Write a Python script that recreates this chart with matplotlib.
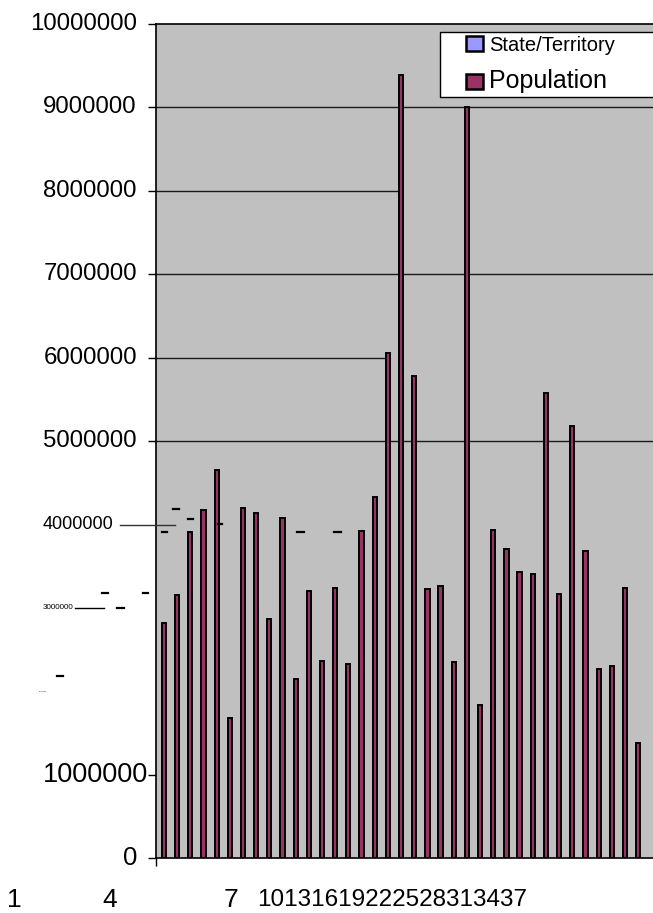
import matplotlib.pyplot as plt
import matplotlib.transforms as mtransforms
from matplotlib.patches import Patch, Rectangle
from matplotlib.legend_handler import HandlerPatch
from matplotlib.lines import Line2D

plt.rcParams['font.family'] = ['Liberation Sans', 'DejaVu Sans']

# Population per state/territory (category 1..37)
population = [2820000, 3150000, 3910000, 4170000, 4650000, 1680000, 4200000,
              4140000, 2870000, 4080000, 2150000, 3200000, 2360000, 3240000,
              2330000, 3920000, 4330000, 6060000, 9390000, 5780000, 3220000,
              3260000, 2350000, 9000000, 1830000, 3930000, 3700000, 3430000,
              3400000, 5580000, 3170000, 5180000, 3680000, 2270000, 2300000,
              3240000, 1380000]
x_labels = ['1', '4', '7', '10', '13', '16', '19', '22', '25', '28', '31', '34', '37']
y_values = [0, 1000000, 2000000, 3000000, 4000000, 5000000, 6000000,
            7000000, 8000000, 9000000, 10000000]
y_labels = [str(v) for v in y_values]

W, H = 653, 913
fig = plt.figure(figsize=(W / 100, H / 100), dpi=100)

def fx(px):
    return px / W

def fy(py):
    return 1 - py / H

# plot area, it runs off the right edge like the original
step = 13.17
x_left = -(164 - 156) / step
x_right = (660 - 164) / step
ax = fig.add_axes([fx(156), fy(858), (660 - 156) / W, (858 - 24) / H])
ax.set_facecolor('#C0C0C0')
ax.set_xlim(x_left, x_right)
ax.set_ylim(0, 10000000)

# gridlines (two of them stop at the tall bars)
for v in [5000000, 7000000, 9000000]:
    ax.hlines(v, x_left, x_right, color='#1a1a1a', lw=1, zorder=1)
ax.hlines(8000000, x_left, 18, color='#1a1a1a', lw=1, zorder=1)
ax.hlines(6000000, x_left, 17, color='#1a1a1a', lw=1, zorder=1)

xs = list(range(len(population)))
ax.bar(xs, population, width=0.32, color='#993366', edgecolor='black',
       linewidth=1.4, zorder=3)

ax.spines['right'].set_visible(False)
for side in ['left', 'bottom', 'top']:
    ax.spines[side].set_linewidth(1.2)
    ax.spines[side].set_color('black')

ax.set_yticks([0, 1000000, 5000000, 6000000, 7000000, 8000000, 9000000, 10000000])
ax.set_yticklabels([])
ax.tick_params(axis='y', direction='out', length=6, width=1, color='black')
ax.set_xticks([x_left])
ax.set_xticklabels([])
ax.tick_params(axis='x', direction='out', length=6, width=1, color='black')

# y labels, sizes jump around as in the source image
trans = mtransforms.blended_transform_factory(fig.transFigure, ax.transData)
label_right = [137, 148, 47, 73, 113, 137, 137, 137, 137, 137, 137]
label_size = [18.5, 19.5, 1.5, 5.8, 13, 17.3, 17.3, 17.3, 17.3, 17.3, 17.3]
for v, lab, r, s in zip(y_values, y_labels, label_right, label_size):
    ax.text(fx(r), v, lab, ha='right', va='center', fontsize=s,
            transform=trans, clip_on=False)

# x labels, squeezed together
label_x = [14, 110, 231]
for lab, px in zip(x_labels[:3], label_x):
    fig.text(fx(px), fy(900), lab, ha='center', va='center', fontsize=19)
fig.text(fx(257), fy(900), ''.join(x_labels[3:]), ha='left', va='center',
         fontsize=17.5)

# stray tick fragments
dashes = [(173, 179, 509), (188, 193, 519), (162, 167, 532), (218, 222, 524),
          (297, 304, 532), (334, 341, 532), (102, 108, 593), (143, 148, 593),
          (117, 124, 608), (57, 63, 676)]
for x0, x1, y in dashes:
    fig.add_artist(Line2D([fx(x0), fx(x1)], [fy(y), fy(y)], color='black', lw=1.6))
fig.add_artist(Line2D([fx(120), fx(175)], [fy(525), fy(525)], color='#333333', lw=1))
fig.add_artist(Line2D([fx(75), fx(104)], [fy(608), fy(608)], color='black', lw=1))

# legend
def square(legend, orig_handle, xdescent, ydescent, width, height, fontsize):
    sq = 12.3
    return Rectangle((-xdescent + width - sq, -ydescent), sq, height)

handles = [Patch(facecolor='#9999FF', edgecolor='black', linewidth=1.8),
           Patch(facecolor='#993366', edgecolor='black', linewidth=1.8)]
leg = ax.legend(handles, ['State/Territory', 'Population'],
                loc='upper left', bbox_to_anchor=(fx(440), fy(31.7) - 0.05, fx(220), 0.05),
                bbox_transform=fig.transFigure, mode='expand', borderaxespad=0,
                fontsize=14.5, handlelength=1.94, handleheight=0.75,
                handletextpad=0.3, labelspacing=0.72, borderpad=0.2,
                fancybox=False, framealpha=1, edgecolor='black',
                handler_map={Patch: HandlerPatch(patch_func=square)})
leg.get_frame().set_linewidth(1)
leg.get_texts()[1].set_fontsize(18)
leg.set_zorder(5)

plt.savefig('out.png', dpi=100)
plt.close(fig)
